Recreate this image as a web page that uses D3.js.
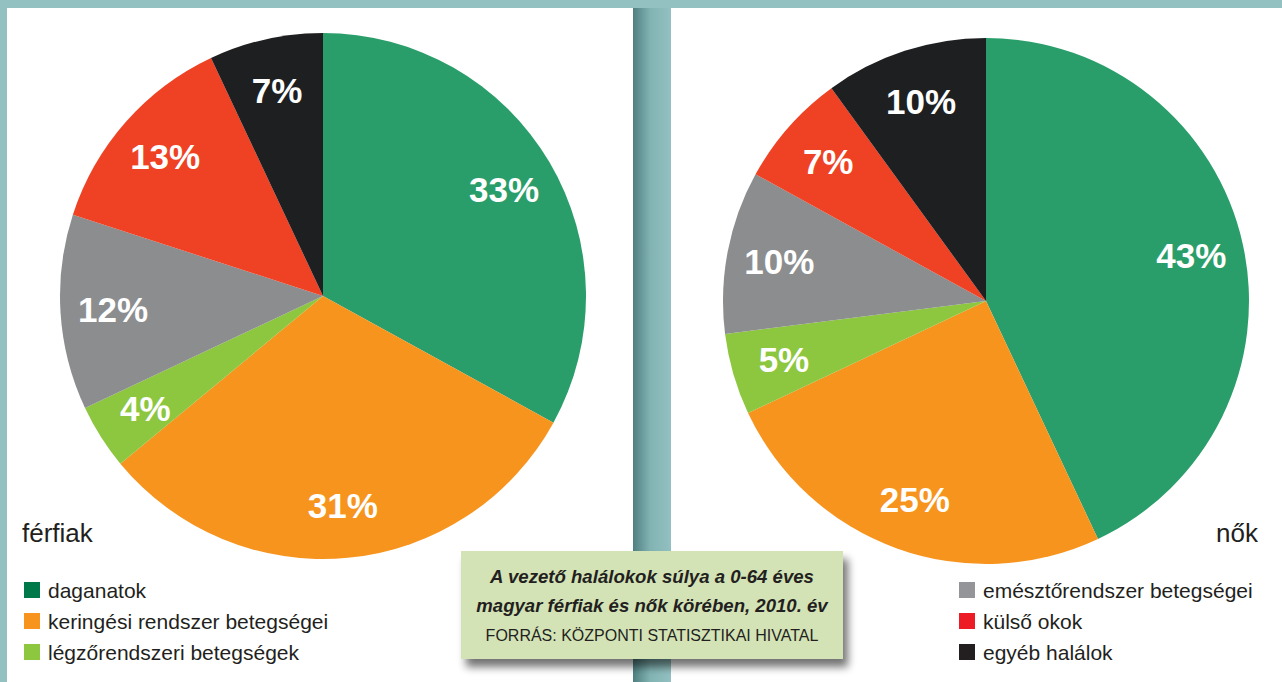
<!DOCTYPE html>
<html>
<head>
<meta charset="utf-8">
<script src="https://cdn.jsdelivr.net/npm/d3@7"></script>
<style>
  html, body { margin: 0; padding: 0; background: #93c0c0; }
  svg { display: block; }
</style>
</head>
<body>
<svg id="chart" width="1282" height="682"></svg>
<script>
// categories and shares (percent)
const categories = ['daganatok', 'keringési rendszer betegségei', 'légzőrendszeri betegségek',
                    'emésztőrendszer betegségei', 'külső okok', 'egyéb halálok']
const ferfiak = [33, 31, 4, 12, 13, 7]
const nok = [43, 25, 5, 10, 7, 10]

const sliceColors = ['#2a9e6a', '#f7941e', '#8dc63f', '#8c8d8f', '#ef4123', '#1e1f21']
const legendColors = ['#00794a', '#f7941e', '#8dc63f', '#939598', '#ed1c24', '#231f20']

const svg = d3.select('#chart')
const defs = svg.append('defs')

// shadow on the gap between panels
let grad = defs.append('linearGradient').attr('id', 'gapShade')
grad.append('stop').attr('offset', '0%').attr('stop-color', '#4f7f80')
grad.append('stop').attr('offset', '45%').attr('stop-color', '#82b3b3')
grad.append('stop').attr('offset', '100%').attr('stop-color', '#93c0c0')

let f = defs.append('filter').attr('id', 'boxShadow')
  .attr('x', '-10%').attr('y', '-20%').attr('width', '130%').attr('height', '160%')
f.append('feGaussianBlur').attr('in', 'SourceAlpha').attr('stdDeviation', 4)
f.append('feOffset').attr('dx', 5).attr('dy', 8).attr('result', 'b')
f.append('feComponentTransfer').append('feFuncA').attr('type', 'linear').attr('slope', 0.55)
let m = f.append('feMerge')
m.append('feMergeNode')
m.append('feMergeNode').attr('in', 'SourceGraphic')

// panels
svg.append('rect').attr('x', 7).attr('y', 8).attr('width', 626).attr('height', 674).attr('fill', '#fff')
svg.append('rect').attr('x', 671).attr('y', 8).attr('width', 611).attr('height', 674).attr('fill', '#fff')
svg.append('rect').attr('x', 633).attr('y', 8).attr('width', 38).attr('height', 674).attr('fill', 'url(#gapShade)')

const pie = d3.pie().sort(null).value(d => d)

function drawPie(values, cx, cy, r) {
  const g = svg.append('g').attr('transform', 'translate(' + cx + ',' + cy + ')')
  const arc = d3.arc().innerRadius(0).outerRadius(r)
  const labelArc = d3.arc().innerRadius(r * 0.8).outerRadius(r * 0.8)
  const arcs = pie(values)

  g.selectAll('path')
    .data(arcs)
    .enter()
    .append('path')
    .attr('d', arc)
    .attr('fill', (d, i) => sliceColors[i])

  g.selectAll('text')
    .data(arcs)
    .enter()
    .append('text')
    .attr('transform', d => 'translate(' + labelArc.centroid(d) + ')')
    .attr('text-anchor', 'middle')
    .attr('dy', '0.36em')
    .attr('fill', '#fff')
    .style('font-family', '"Liberation Sans", Arial, sans-serif')
    .style('font-weight', 'bold')
    .style('font-size', '35px')
    .text(d => d.data + '%')
}

drawPie(ferfiak, 323, 296, 263)
drawPie(nok, 986, 301, 263)

// panel titles
const font = '"Liberation Sans", Arial, sans-serif'
svg.append('text').attr('x', 22).attr('y', 542)
  .style('font-family', font).style('font-size', '26px').attr('fill', '#231f20').text('férfiak')
svg.append('text').attr('x', 1258).attr('y', 542).attr('text-anchor', 'end')
  .style('font-family', font).style('font-size', '26px').attr('fill', '#231f20').text('nők')

// legends
function drawLegend(idx, x, y0) {
  const g = svg.append('g')
  idx.forEach((c, j) => {
    const y = y0 + j * 31
    g.append('rect').attr('x', x).attr('y', y - 8).attr('width', 16).attr('height', 16)
      .attr('fill', legendColors[c])
    g.append('text').attr('x', x + 24).attr('y', y + 7.5)
      .style('font-family', font).style('font-size', '21px').attr('fill', '#231f20')
      .text(categories[c])
  })
}
drawLegend([0, 1, 2], 24, 590)
drawLegend([3, 4, 5], 959, 590)

// caption box
const cap = svg.append('g')
cap.append('rect').attr('x', 461).attr('y', 551).attr('width', 382).attr('height', 108)
  .attr('fill', '#d3e3b6').attr('filter', 'url(#boxShadow)')
const captionLines = ['A vezető halálokok súlya a 0-64 éves', 'magyar férfiak és nők körében, 2010. év']
captionLines.forEach((t, i) => {
  cap.append('text').attr('x', 652).attr('y', 583 + i * 29).attr('text-anchor', 'middle')
    .style('font-family', font).style('font-size', '18.6px').style('font-weight', 'bold')
    .style('font-style', 'italic').attr('fill', '#231f20').text(t)
})
cap.append('text').attr('x', 652).attr('y', 641).attr('text-anchor', 'middle')
  .style('font-family', font).style('font-size', '16px').attr('fill', '#231f20')
  .text('FORRÁS: KÖZPONTI STATISZTIKAI HIVATAL')
</script>
</body>
</html>
